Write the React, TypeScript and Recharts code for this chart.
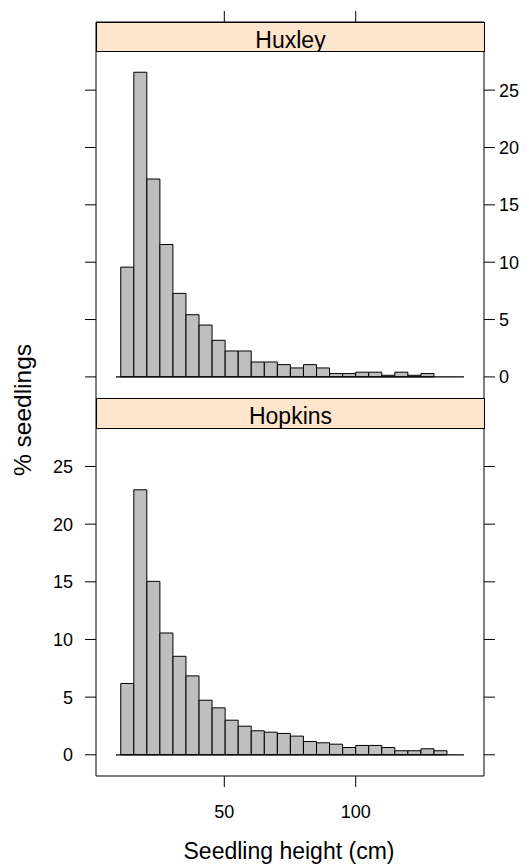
import { Bar, BarChart, ReferenceLine, XAxis, YAxis } from "recharts";

// bin midpoints (cm), ~5 cm wide bins
const binMids = [
  13.08, 18.05, 23.02, 27.98, 32.95, 37.91, 42.88, 47.85, 52.81, 57.78, 62.75,
  67.71, 72.68, 77.64, 82.61, 87.58, 92.54, 97.51, 102.48, 107.44, 112.41,
  117.37, 122.34, 127.31, 132.27, 137.24,
];
const huxley = [
  9.57, 26.56, 17.25, 11.54, 7.28, 5.42, 4.52, 3.19, 2.26, 2.26, 1.3, 1.3, 1.07,
  0.78, 1.07, 0.78, 0.29, 0.29, 0.41, 0.41, 0.14, 0.41, 0.14, 0.29, 0, 0,
];
const hopkins = [
  6.18, 22.98, 15.04, 10.56, 8.54, 6.84, 4.73, 4.07, 3.0, 2.48, 2.08, 1.96, 1.85,
  1.62, 1.15, 1.04, 0.92, 0.63, 0.81, 0.81, 0.63, 0.35, 0.35, 0.52, 0.35, 0,
];
const yTicks = [0, 5, 10, 15, 20, 25];
const xTicks = [50, 100];
const baseline = [8.8, 141.2];

const FONT = '"Liberation Sans", Arial, Helvetica, sans-serif';
const X_DOMAIN: [number, number] = [1.18, 148.82];
const Y_DOMAIN: [number, number] = [-1.84, 30.94];
const tickStyle = { fill: "#000", fontSize: 18, fontFamily: FONT };
const blank = () => "";

function Panel({
  values,
  top,
}: {
  values: number[];
  top: boolean;
}) {
  const data = binMids.map((x, i) => ({ x, pct: values[i] }));
  return (
    <BarChart
      width={529}
      height={top ? 420 : 490}
      data={data}
      margin={
        top
          ? { top: 0, left: 36, right: 5, bottom: 22 }
          : { top: 22, left: 36, right: 5, bottom: 50 }
      }
      barCategoryGap={0}
      barGap={0}
    >
      <XAxis
        xAxisId="x"
        dataKey="x"
        type="number"
        orientation={top ? "top" : "bottom"}
        height={top ? 22 : 40}
        domain={X_DOMAIN}
        allowDataOverflow
        ticks={xTicks}
        tick={tickStyle}
        tickFormatter={top ? blank : undefined}
        tickSize={11}
        tickMargin={18}
        axisLine={{ stroke: "#000" }}
        tickLine={{ stroke: "#000" }}
      />
      <YAxis
        yAxisId="l"
        orientation="left"
        width={60}
        type="number"
        domain={Y_DOMAIN}
        allowDataOverflow
        ticks={yTicks}
        tick={tickStyle}
        tickFormatter={top ? blank : undefined}
        tickSize={11}
        tickMargin={12}
        axisLine={{ stroke: "#000" }}
        tickLine={{ stroke: "#000" }}
      />
      <YAxis
        yAxisId="r"
        orientation="right"
        width={40}
        type="number"
        domain={Y_DOMAIN}
        allowDataOverflow
        ticks={yTicks}
        tick={tickStyle}
        tickFormatter={top ? undefined : blank}
        tickSize={11}
        tickMargin={4}
        axisLine={{ stroke: "#000" }}
        tickLine={{ stroke: "#000" }}
      />
      <ReferenceLine
        xAxisId="x"
        yAxisId="l"
        segment={[
          { x: baseline[0], y: 0 },
          { x: baseline[1], y: 0 },
        ]}
        stroke="#000"
        strokeWidth={1.3}
      />
      <Bar
        xAxisId="x"
        yAxisId="l"
        dataKey="pct"
        fill="#bebebe"
        stroke="#000"
        strokeWidth={1}
        isAnimationActive={false}
      />
    </BarChart>
  );
}

function Strip({ label, y, h }: { label: string; y: number; h: number }) {
  return (
    <div
      style={{
        position: "absolute",
        left: 96,
        top: y,
        width: 389,
        height: h,
        boxSizing: "border-box",
        border: "1px solid #000",
        background: "#ffe5cc",
        fontFamily: FONT,
        fontSize: 23,
        lineHeight: `${h - 2}px`,
        textAlign: "center",
        color: "#000",
        overflow: "hidden",
      }}
    >
      <span style={{ position: "relative", top: 3 }}>{label}</span>
    </div>
  );
}

export default function App() {
  return (
    <div
      style={{
        position: "absolute",
        left: 0,
        top: 0,
        width: 529,
        height: 866,
        background: "#fff",
        fontFamily: FONT,
      }}
    >
      <div style={{ position: "absolute", left: 0, top: 0 }}>
        <Panel values={huxley} top />
      </div>
      <div style={{ position: "absolute", left: 0, top: 376 }}>
        <Panel values={hopkins} top={false} />
      </div>
      <Strip label="Huxley" y={22} h={30} />
      <Strip label="Hopkins" y={398} h={31} />
      <div
        style={{
          position: "absolute",
          left: 23,
          top: 410,
          transform: "translate(-50%, -50%) rotate(-90deg)",
          whiteSpace: "nowrap",
          fontSize: 24.5,
          color: "#000",
        }}
      >
        % seedlings
      </div>
      <div
        style={{
          position: "absolute",
          left: 289,
          top: 851,
          transform: "translate(-50%, -50%)",
          whiteSpace: "nowrap",
          fontSize: 23,
          color: "#000",
        }}
      >
        Seedling height (cm)
      </div>
    </div>
  );
}
